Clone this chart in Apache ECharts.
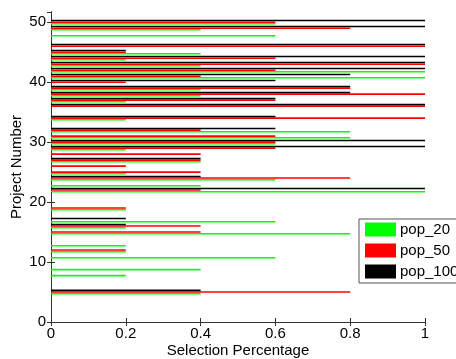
<!DOCTYPE html>
<html>
<head>
<meta charset="utf-8">
<script src="https://cdn.jsdelivr.net/npm/echarts@6/dist/echarts.min.js"></script>
<style>
  html, body { margin: 0; padding: 0; background: #fff; }
  #chart { width: 456px; height: 359px; }
</style>
</head>
<body>
<div id="chart"></div>
<script>
// project numbers 1..50
var projects = [];
for (var i = 1; i <= 50; i++) projects.push(i);

// selection percentage per project (index 0 = project 1)
var pop20 = [0, 0, 0, 0, 0.4, 0, 0, 0.2, 0.4, 0,
             0.6, 0.2, 0.2, 0, 0.8, 0.2, 0.6, 0, 0.2, 0,
             0, 1.0, 0.4, 0.6, 0.2, 0, 0.4, 0, 0.2, 0.6,
             0.8, 0.8, 0, 0.2, 0, 0, 0.2, 0.4, 0.4, 0,
             1.0, 1.0, 0.4, 0.2, 0.4, 0, 0, 0.6, 0.4, 0.6];
var pop50 = [0, 0, 0, 0, 0.8, 0, 0, 0, 0, 0,
             0, 0.2, 0, 0, 0.4, 0.4, 0, 0, 0.2, 0,
             0, 0.4, 0, 0.8, 0.4, 0.2, 0.4, 0.4, 0.6, 0.6,
             0.6, 0.4, 0, 1.0, 0, 1.0, 0.6, 1.0, 0.8, 0.2,
             0.4, 0.6, 1.0, 0.6, 0.2, 1.0, 0, 0, 0.8, 0.6];
var pop100 = [0, 0, 0, 0, 0.4, 0, 0, 0, 0, 0,
              0, 0, 0, 0, 0, 0.2, 0.2, 0, 0, 0,
              0, 1.0, 0, 0.4, 0, 0, 0.4, 0, 1.0, 1.0,
              0, 0.6, 0, 0.6, 0, 1.0, 0.6, 0.8, 0.8, 0.6,
              0.8, 1.0, 1.0, 1.0, 0.2, 1.0, 0, 0, 1.0, 1.0];

var chart = echarts.init(document.getElementById('chart'));

function toData(vals) {
    var out = [];
    vals.forEach(function (v, idx) {
        if (v > 0) out.push([v, projects[idx]]);
    });
    return out;
}

// thin grouped bars like matlab barh, offset inside each project slot
function barRender(offset) {
    return function (params, api) {
        var p = api.value(1);
        var start = api.coord([0, p]);
        var end = api.coord([api.value(0), p]);
        var step = api.size([0, 0.27])[1];
        var h = api.size([0, 0.26])[1];
        var cy = start[1] + offset * step;
        return {
            type: 'rect',
            shape: { x: start[0], y: cy - h / 2, width: end[0] - start[0], height: h },
            style: { fill: api.visual('color') }
        };
    };
}

var font = 'Liberation Sans, Arial, sans-serif';
var axisLine = { show: true, lineStyle: { color: '#333', width: 1 } };

var option = {
    animation: false,
    backgroundColor: '#fff',
    grid: { left: 51, right: 31, top: 12, bottom: 37, outerBoundsMode: 'none' },
    legend: {
        orient: 'vertical',
        left: 359,
        top: 219,
        padding: [3, 6, 4, 6],
        itemWidth: 31,
        itemHeight: 14,
        itemGap: 6,
        icon: 'rect',
        backgroundColor: '#fff',
        borderColor: '#555',
        borderWidth: 1,
        textStyle: { fontFamily: font, fontSize: 15, color: '#000', padding: [0, 0, 0, -1] },
        data: ['pop_20', 'pop_50', 'pop_100']
    },
    xAxis: [{
        type: 'value',
        min: 0, max: 1, interval: 0.2,
        name: 'Selection Percentage',
        nameLocation: 'middle',
        nameGap: 21,
        nameMoveOverlap: false,
        nameTextStyle: { fontFamily: font, fontSize: 15, color: '#000' },
        axisLine: axisLine,
        axisTick: { show: true, inside: true, length: 4, lineStyle: { color: '#333' } },
        axisLabel: { fontFamily: font, fontSize: 15, color: '#000', margin: 4,
            formatter: function (v) { return String(Math.round(v * 10) / 10); } },
        splitLine: { show: false }
    }, {
        type: 'value', position: 'top',
        min: 0, max: 1, interval: 0.2,
        axisLine: axisLine,
        axisTick: { show: true, inside: true, length: 4, lineStyle: { color: '#333' } },
        axisLabel: { show: false },
        splitLine: { show: false }
    }],
    yAxis: [{
        type: 'value',
        min: 0, max: 51.7, interval: 10,
        name: 'Project Number',
        nameLocation: 'middle',
        nameGap: 27,
        nameMoveOverlap: false,
        nameTextStyle: { fontFamily: font, fontSize: 15, color: '#000' },
        axisLine: axisLine,
        axisTick: { show: true, inside: true, length: 4, lineStyle: { color: '#333' } },
        axisLabel: { fontFamily: font, fontSize: 15, color: '#000', margin: 5, showMaxLabel: false },
        splitLine: { show: false }
    }, {
        type: 'value', position: 'right',
        min: 0, max: 51.7, interval: 10,
        axisLine: axisLine,
        axisTick: { show: true, inside: true, length: 4, lineStyle: { color: '#333' } },
        axisLabel: { show: false },
        splitLine: { show: false }
    }],
    series: [{
        name: 'pop_20', type: 'custom',
        itemStyle: { color: '#00ff00' },
        renderItem: barRender(1),
        encode: { x: 0, y: 1 },
        data: toData(pop20)
    }, {
        name: 'pop_50', type: 'custom',
        itemStyle: { color: '#ff0000' },
        renderItem: barRender(0),
        encode: { x: 0, y: 1 },
        data: toData(pop50)
    }, {
        name: 'pop_100', type: 'custom',
        itemStyle: { color: '#000000' },
        renderItem: barRender(-1),
        encode: { x: 0, y: 1 },
        data: toData(pop100)
    }]
};

chart.setOption(option);
</script>
</body>
</html>
